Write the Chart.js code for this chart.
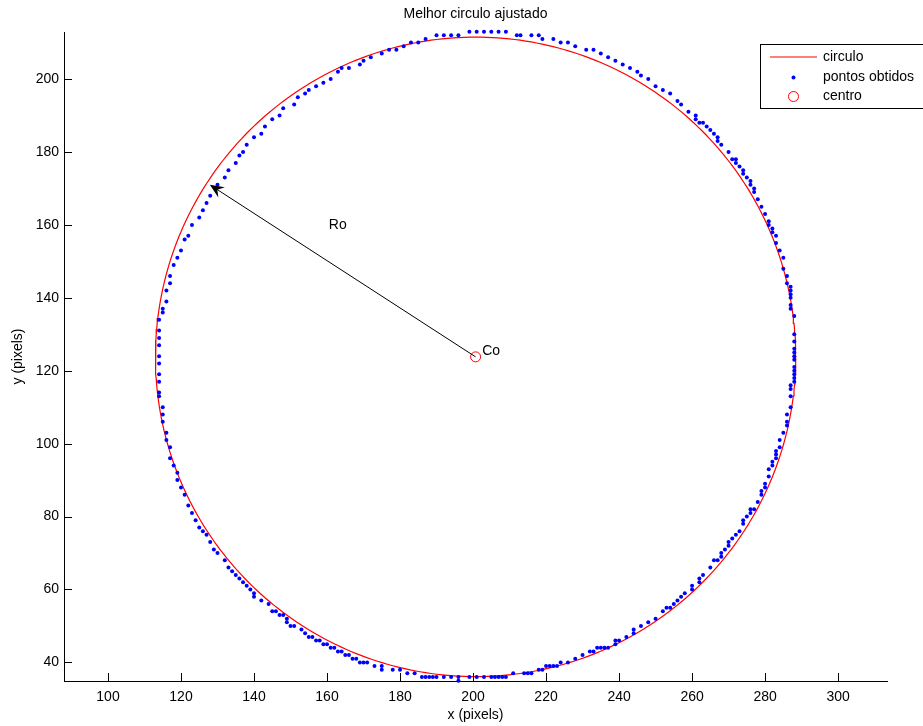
<!DOCTYPE html>
<html>
<head>
<meta charset="utf-8">
<script src="https://cdn.jsdelivr.net/npm/chart.js@4"></script>
<style>
  body { margin: 0; background: #fff; }
</style>
</head>
<body>
<canvas id="grafico" width="923" height="726"></canvas>
<script>
// pontos detectados na borda (pixels)
const pontosX = [
  161,163,164,166,169,170,172,175,177,179,181,183,185,187,190,192,194,196,199,201,203,205,207,209,212,213,216,218,219,222,224,226,228,231,233,235,237,239,241,243,245,
  246,248,250,252,254,256,257,259,261,261,262,263,264,265,266,267,267,268,270,271,272,272,273,274,274,275,276,276,277,277,278,279,280,281,281,282,282,283,283,284,285,285,286,286,287,287,287,287,287,287,288,288,288,288,288,288,
  288,288,288,288,288,288,287,287,287,287,286,286,286,285,284,284,283,283,283,282,282,281,281,280,280,279,279,278,277,276,276,275,274,274,273,272,271,270,270,269,268,268,267,266,265,263,262,262,260,260,258,257,256,255,254,253,252,250,248,246,244,244,242,240,239,239,
  237,236,235,234,233,232,230,228,226,224,223,222,221,220,219,218,216,215,214,211,209,208,207,206,205,203,201,199,196,196,194,192,190,189,188,187,186,184,182,180,178,175,175,173,171,170,169,168,167,166,165,164,163,162,161,
  160,159,158,157,156,155,154,153,151,150,149,149,148,147,146,145,144,142,140,140,139,138,137,136,135,134,133,132,130,129,128,127,126,125,124,123,122,121,120,119,119,118,117,117,116,116,115,115,115,114,114,114,114,114,114,
  114,114,114,114,115,115,116,116,117,117,118,119,120,121,122,123,125,126,127,128,130,132,133,135,136,137,138,140,142,143,145,147,148,151,152,154,155,157,159
];
const pontosY = [
  200,202,203,203,204,205,206,207,208,208,209,210,210,211,212,212,212,212,213,213,213,213,213,213,212,212,212,212,211,211,210,210,209,208,208,207,206,205,204,203,202,
  201,200,198,197,196,194,193,191,190,189,188,188,187,186,185,184,183,182,180,178,178,177,176,175,174,173,172,171,170,169,167,165,163,161,160,159,158,157,155,153,151,148,146,144,143,142,141,140,138,137,135,130,128,126,125,124,
  123,121,120,119,118,117,116,115,113,110,108,106,105,103,101,99,98,97,96,95,94,93,91,89,88,87,86,84,82,82,81,80,79,78,76,75,74,73,72,71,70,69,68,68,66,64,63,62,61,60,59,58,57,56,55,55,54,52,51,50,49,48,47,46,46,45,
  44,44,44,44,43,43,42,41,40,40,39,39,39,39,38,38,37,37,37,37,36,36,36,36,36,36,36,36,36,35,36,36,36,36,36,36,36,37,37,38,38,38,39,39,40,40,40,41,41,42,42,43,43,44,44,
  45,45,46,46,47,47,48,49,50,50,51,52,53,53,54,54,56,57,58,59,60,61,62,63,64,65,66,68,70,71,73,75,76,77,79,81,83,86,88,90,92,94,96,99,101,103,106,108,110,113,114,117,119,122,124,
  127,129,131,134,136,137,139,142,144,146,149,151,153,156,157,160,162,164,166,168,171,173,175,177,179,180,182,184,185,187,189,190,192,193,195,196,197,198,199
];

// circulo ajustado
const centro = [200.7, 123.8];
const raio = 87.7;

// seta do raio (da origem ate a borda)
const setaInicio = [200.7, 123.8];
const setaFim = [127.9, 171.0];

const xTicks = [100, 120, 140, 160, 180, 200, 220, 240, 260, 280, 300];
const yTicks = [40, 60, 80, 100, 120, 140, 160, 180, 200];
const xLimites = [87.95, 313.4];
const yLimites = [34.9, 212.9];

const fonte = '"Liberation Sans", Arial, Helvetica, sans-serif';
const vermelho = 'rgb(255,0,0)';
const azul = 'rgb(0,0,255)';

const pontosCirculo = [];
for (let i = 0; i <= 360; i++) {
    const t = i * Math.PI / 180;
    pontosCirculo.push({ x: centro[0] + raio * Math.cos(t), y: centro[1] + raio * Math.sin(t) });
}

const extras = {
    id: 'extras',
    afterDraw(chart) {
        const ctx = chart.ctx, a = chart.chartArea;
        const sx = chart.scales.x, sy = chart.scales.y;
        ctx.save();

        // ticks para dentro, estilo matlab
        ctx.strokeStyle = '#000';
        ctx.lineWidth = 1;
        ctx.beginPath();
        xTicks.forEach(v => {
            const px = Math.round(sx.getPixelForValue(v)) + 0.5;
            ctx.moveTo(px, a.bottom);
            ctx.lineTo(px, a.bottom - 8);
        });
        yTicks.forEach(v => {
            const py = Math.round(sy.getPixelForValue(v)) + 0.5;
            ctx.moveTo(a.left, py);
            ctx.lineTo(a.left + 8, py);
        });
        ctx.stroke();

        // seta
        const x0 = sx.getPixelForValue(setaInicio[0]), y0 = sy.getPixelForValue(setaInicio[1]);
        const x1 = sx.getPixelForValue(setaFim[0]), y1 = sy.getPixelForValue(setaFim[1]);
        const ang = Math.atan2(y1 - y0, x1 - x0);
        const c = Math.cos(ang), s = Math.sin(ang);
        ctx.beginPath();
        ctx.moveTo(x0, y0);
        ctx.lineTo(x1 - 9 * c, y1 - 9 * s);
        ctx.stroke();
        ctx.fillStyle = '#000';
        ctx.beginPath();
        ctx.moveTo(x1, y1);
        ctx.lineTo(x1 - 14 * c + 6 * s, y1 - 14 * s - 6 * c);
        ctx.lineTo(x1 - 9 * c, y1 - 9 * s);
        ctx.lineTo(x1 - 14 * c - 6 * s, y1 - 14 * s + 6 * c);
        ctx.closePath();
        ctx.fill();

        // textos
        ctx.font = '14px ' + fonte;
        ctx.fillStyle = '#000';
        ctx.textBaseline = 'middle';
        ctx.textAlign = 'left';
        ctx.fillText('Ro', sx.getPixelForValue(160.5), sy.getPixelForValue(160));
        ctx.fillText('Co', sx.getPixelForValue(202.5), sy.getPixelForValue(125.3));

        ctx.textAlign = 'center';
        const meioX = (a.left + a.right) / 2;
        ctx.fillText('Melhor circulo ajustado', meioX, 14);
        ctx.fillText('x (pixels)', meioX, 715);
        ctx.save();
        ctx.translate(18, (a.top + a.bottom) / 2);
        ctx.rotate(-Math.PI / 2);
        ctx.fillText('y (pixels)', 0, 0);
        ctx.restore();

        // legenda
        const ds = chart.data.datasets;
        ctx.fillStyle = '#fff';
        ctx.fillRect(761, 45, 180, 64);
        ctx.strokeStyle = '#000';
        ctx.strokeRect(760.5, 44.5, 180, 64);
        ctx.textAlign = 'left';
        const linhas = [57, 77.5, 96.5];
        ctx.strokeStyle = vermelho;
        ctx.lineWidth = 1.2;
        ctx.beginPath();
        ctx.moveTo(770, linhas[0]);
        ctx.lineTo(817, linhas[0]);
        ctx.stroke();
        ctx.lineWidth = 1;
        ctx.fillStyle = azul;
        ctx.beginPath();
        ctx.arc(793.5, linhas[1], 2, 0, Math.PI * 2);
        ctx.fill();
        ctx.strokeStyle = vermelho;
        ctx.beginPath();
        ctx.arc(793.5, linhas[2], 5, 0, Math.PI * 2);
        ctx.stroke();
        ctx.fillStyle = '#000';
        ds.forEach((d, i) => ctx.fillText(d.label, 823, linhas[i]));

        ctx.restore();
    }
};

new Chart(document.getElementById('grafico'), {
    type: 'scatter',
    data: {
        datasets: [{
            label: 'circulo',
            data: pontosCirculo,
            showLine: true,
            borderColor: vermelho,
            borderWidth: 1.2,
            pointRadius: 0,
            clip: 4,
            order: 3
        }, {
            label: 'pontos obtidos',
            data: pontosX.map((v, i) => ({ x: v, y: pontosY[i] })),
            backgroundColor: azul,
            borderWidth: 0,
            pointRadius: 2,
            clip: false,
            order: 2
        }, {
            label: 'centro',
            data: [{ x: centro[0], y: centro[1] }],
            borderColor: vermelho,
            backgroundColor: 'rgba(0,0,0,0)',
            borderWidth: 1,
            pointRadius: 5,
            order: 1
        }]
    },
    options: {
        responsive: false,
        animation: false,
        layout: { padding: { left: 0, right: 36, top: 32, bottom: 0 } },
        plugins: { legend: { display: false }, tooltip: { enabled: false }, title: { display: false } },
        scales: {
            x: {
                type: 'linear',
                min: xLimites[0], max: xLimites[1],
                afterFit: s => { s.height = 45; },
                afterBuildTicks: s => { s.ticks = xTicks.map(v => ({ value: v })); },
                grid: { display: false, drawTicks: false },
                border: { display: true, color: '#000', width: 1 },
                ticks: { color: '#000', padding: 8, maxRotation: 0, font: { size: 14, family: fonte } }
            },
            y: {
                type: 'linear',
                min: yLimites[0], max: yLimites[1],
                afterFit: s => { s.width = 64; },
                afterBuildTicks: s => { s.ticks = yTicks.map(v => ({ value: v })); },
                grid: { display: false, drawTicks: false },
                border: { display: true, color: '#000', width: 1 },
                ticks: { color: '#000', padding: 5, font: { size: 14, family: fonte } }
            }
        }
    },
    plugins: [extras]
});
</script>
</body>
</html>
